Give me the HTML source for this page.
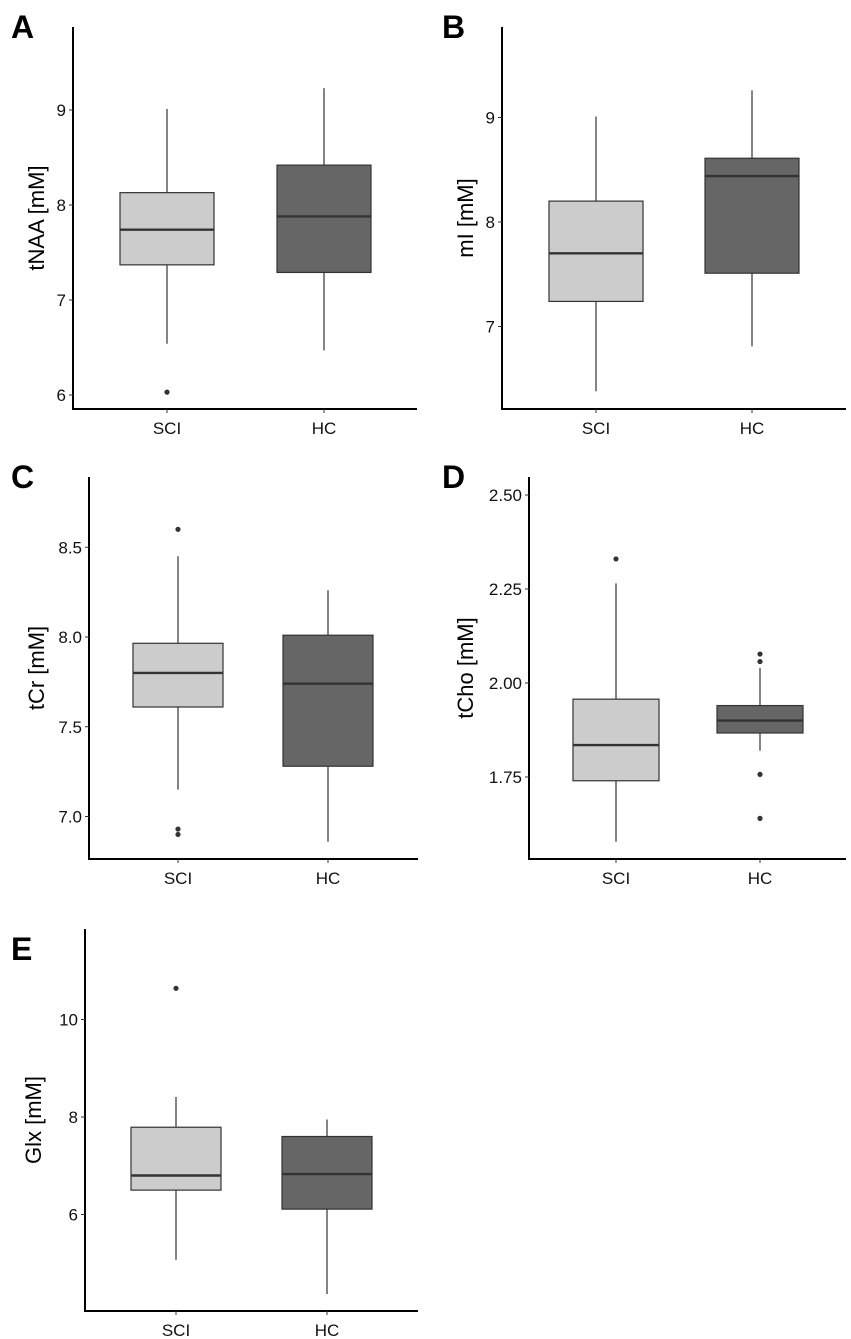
<!DOCTYPE html>
<html><head><meta charset="utf-8"><style>
html,body{margin:0;padding:0;background:#fff;}
svg{display:block;font-family:"Liberation Sans",Arial,sans-serif;}
</style></head><body>
<svg id="chart" width="851" height="1339" viewBox="0 0 851 1339" xmlns="http://www.w3.org/2000/svg"></svg>
<script>
// Data (values in mM): [lowWhisker, q1, median, q3, highWhisker]
const groups = ["SCI", "HC"];
const tNAA_SCI = [6.54, 7.37, 7.74, 8.13, 9.01];
const tNAA_HC  = [6.47, 7.29, 7.88, 8.42, 9.23];
const tNAA_out_SCI = [6.03];
const tNAA_out_HC = [];
const mI_SCI = [6.38, 7.24, 7.70, 8.20, 9.01];
const mI_HC  = [6.81, 7.51, 8.44, 8.61, 9.26];
const mI_out_SCI = [];
const mI_out_HC = [];
const tCr_SCI = [7.15, 7.61, 7.80, 7.965, 8.45];
const tCr_HC  = [6.86, 7.28, 7.74, 8.01, 8.26];
const tCr_out_SCI = [8.60, 6.93, 6.90];
const tCr_out_HC = [];
const tCho_SCI = [1.578, 1.74, 1.835, 1.957, 2.265];
const tCho_HC  = [1.82, 1.867, 1.90, 1.94, 2.04];
const tCho_out_SCI = [2.33];
const tCho_out_HC = [2.077, 2.057, 1.757, 1.64];
const Glx_SCI = [5.07, 6.50, 6.80, 7.79, 8.41];
const Glx_HC  = [4.37, 6.11, 6.83, 7.60, 7.95];
const Glx_out_SCI = [10.64];
const Glx_out_HC = [];
const ticksA = ["6","7","8","9"];
const ticksB = ["7","8","9"];
const ticksC = ["7.0","7.5","8.0","8.5"];
const ticksD = ["1.75","2.00","2.25","2.50"];
const ticksE = ["6","8","10"];

const panels = [
 {id:"a",letter:"A",title:"tNAA [mM]",boxes:[tNAA_SCI,tNAA_HC],outs:[tNAA_out_SCI,tNAA_out_HC],ticks:ticksA,
  x0:73,x1:417,yT:27,yB:409,ref:8,refPx:205,ppu:95,cx:[167,324],hw:47,lx:11,ly:38,tx:44},
 {id:"b",letter:"B",title:"mI [mM]",boxes:[mI_SCI,mI_HC],outs:[mI_out_SCI,mI_out_HC],ticks:ticksB,
  x0:502,x1:846,yT:27,yB:409,ref:8,refPx:222,ppu:104.5,cx:[596,752],hw:47,lx:442,ly:38,tx:473},
 {id:"c",letter:"C",title:"tCr [mM]",boxes:[tCr_SCI,tCr_HC],outs:[tCr_out_SCI,tCr_out_HC],ticks:ticksC,
  x0:89,x1:418,yT:477,yB:859,ref:8,refPx:637,ppu:179.5,cx:[178,328],hw:45,lx:11,ly:488,tx:44},
 {id:"d",letter:"D",title:"tCho [mM]",boxes:[tCho_SCI,tCho_HC],outs:[tCho_out_SCI,tCho_out_HC],ticks:ticksD,
  x0:529,x1:846,yT:477,yB:859,ref:2,refPx:683,ppu:376,cx:[616,760],hw:43,lx:442,ly:488,tx:473},
 {id:"e",letter:"E",title:"Glx [mM]",boxes:[Glx_SCI,Glx_HC],outs:[Glx_out_SCI,Glx_out_HC],ticks:ticksE,
  x0:85,x1:418,yT:929,yB:1311,ref:8,refPx:1117,ppu:48.75,cx:[176,327],hw:45,lx:11,ly:960,tx:41}
];
const fills=["#cccccc","#666666"];
const NS="http://www.w3.org/2000/svg";
const svg=document.getElementById("chart");
function mk(tag,attrs,parent){const e=document.createElementNS(NS,tag);for(const k in attrs)e.setAttribute(k,attrs[k]);parent.appendChild(e);return e;}
panels.forEach(p=>{
  const g=mk("g",{},svg);
  
  
  const y=v=>p.refPx-(v-p.ref)*p.ppu;
  const L=mk("text",{x:p.lx,y:p.ly,"font-size":"32","font-weight":"bold",fill:"#000"},g);L.textContent=p.letter;
  
  
  const ax=mk("path",{d:`M${p.x0},${p.yT}V${p.yB}H${p.x1}`,stroke:"#000","stroke-width":"2",fill:"none"},g);
  
  
  p.ticks.forEach(t=>{
    const v=parseFloat(t),py=y(v);
    const tk=mk("line",{x1:p.x0-4,x2:p.x0,y1:py,y2:py,stroke:"#333","stroke-width":"1"},g);
    
    
    const tl=mk("text",{x:p.x0-7,y:py+6,"font-size":"17","text-anchor":"end",fill:"#111"},g);tl.textContent=t;
    
    
  });
  const ti=mk("text",{x:p.tx,y:(p.yT+p.yB)/2,"font-size":"22","text-anchor":"middle",fill:"#000",transform:`rotate(-90 ${p.tx} ${(p.yT+p.yB)/2})`},g);ti.textContent=p.title;
  
  
  groups.forEach((gname,i)=>{
    const cx=p.cx[i],b=p.boxes[i];
    const xt=mk("line",{x1:cx,x2:cx,y1:p.yB,y2:p.yB+4,stroke:"#333"},g);
    
    
    const xl=mk("text",{x:cx,y:p.yB+25,"font-size":"17","text-anchor":"middle",fill:"#111"},g);xl.textContent=gname;
    
    
    const w=mk("line",{x1:cx,x2:cx,y1:y(b[0]),y2:y(b[4]),stroke:"#333","stroke-width":"1.2"},g);
    
    
    const r=mk("rect",{x:cx-p.hw,y:y(b[3]),width:2*p.hw,height:y(b[1])-y(b[3]),fill:fills[i],stroke:"#333","stroke-width":"1.2"},g);
    
    
    const m=mk("line",{x1:cx-p.hw,x2:cx+p.hw,y1:y(b[2]),y2:y(b[2]),stroke:"#333","stroke-width":"2.4"},g);
    
    
    p.outs[i].forEach(o=>{
      const c=mk("circle",{cx:cx,cy:y(o),r:2.6,fill:"#333"},g);
      
      
    });
  });
});
</script>
</body></html>
